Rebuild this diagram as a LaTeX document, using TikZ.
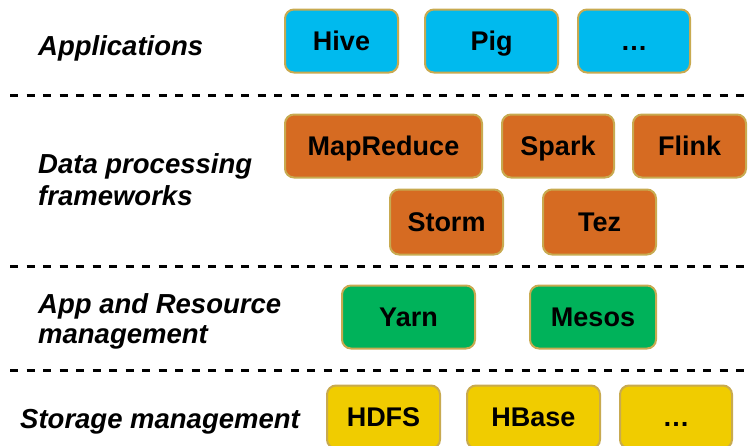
\documentclass[tikz,border=0pt]{standalone}
\usepackage{fontspec}
\setmainfont{Liberation Sans}
\definecolor{bordc}{RGB}{200,170,80}
\definecolor{cyanc}{RGB}{0,186,238}
\definecolor{orangec}{RGB}{214,107,34}
\definecolor{greenc}{RGB}{0,178,90}
\definecolor{yellowc}{RGB}{240,204,0}
\tikzset{
  layerbox/.style={draw=bordc, line width=2pt, rounded corners=9pt, inner sep=0pt,
    font=\fontsize{27}{30}\selectfont\bfseries, text height=19.5pt, text depth=0pt,
    minimum height=63pt},
  applbox/.style={layerbox, fill=cyanc},
  procbox/.style={layerbox, fill=orangec},
  resbox/.style={layerbox, fill=greenc},
  storbox/.style={layerbox, fill=yellowc},
  lbl/.style={anchor=base west, inner sep=0pt, font=\fontsize{27.5}{30}\selectfont\bfseries\itshape},
  sep/.style={line width=3pt, dash pattern=on 8pt off 8.5pt}
}
\begin{document}
\begin{tikzpicture}[x=1pt,y=-1pt]
\useasboundingbox (0,0) rectangle (749,445);
% separators
\coordinate (s1a) at (10,95);  \coordinate (s1b) at (749,95);
\coordinate (s2a) at (10,266); \coordinate (s2b) at (749,266);
\coordinate (s3a) at (10,370); \coordinate (s3b) at (749,370);
\draw[sep] (s1a) -- (s1b);
\draw[sep] (s2a) -- (s2b);
\draw[sep] (s3a) -- (s3b);
% labels
\node[lbl] (lapp) at (38,55) {Applications};
\node[lbl] (ldp1) at (38,173) {Data processing};
\node[lbl] (ldp2) at (38,205) {frameworks};
\node[lbl] (lar1) at (38,313) {App and Resource};
\node[lbl] (lar2) at (38,343) {management};
\node[lbl] (lst) at (20,428) {Storage management};
% applications
\node[applbox, minimum width=113pt] (hive) at (341.5,41) {Hive};
\node[applbox, minimum width=133pt] (pig) at (491.5,41) {Pig};
\node[applbox, minimum width=112pt] (adots) at (634,41) {\dots};
% processing
\node[procbox, minimum width=197pt] (mr) at (383.5,146) {MapReduce};
\node[procbox, minimum width=112pt] (spark) at (558,146) {Spark};
\node[procbox, minimum width=113pt] (flink) at (689.5,146) {Flink};
\node[procbox, minimum width=113pt, minimum height=65pt] (storm) at (446.5,222) {Storm};
\node[procbox, minimum width=113pt, minimum height=65pt] (tez) at (599.5,222) {Tez};
% resource
\node[resbox, minimum width=133pt] (yarn) at (408.5,317) {Yarn};
\node[resbox, minimum width=126pt] (mesos) at (593,317) {Mesos};
% storage
\node[storbox, minimum width=113pt] (hdfs) at (383.5,417) {HDFS};
\node[storbox, minimum width=133pt] (hbase) at (533.5,417) {HBase};
\node[storbox, minimum width=112pt] (sdots) at (676,417) {\dots};
\end{tikzpicture}
\end{document}
